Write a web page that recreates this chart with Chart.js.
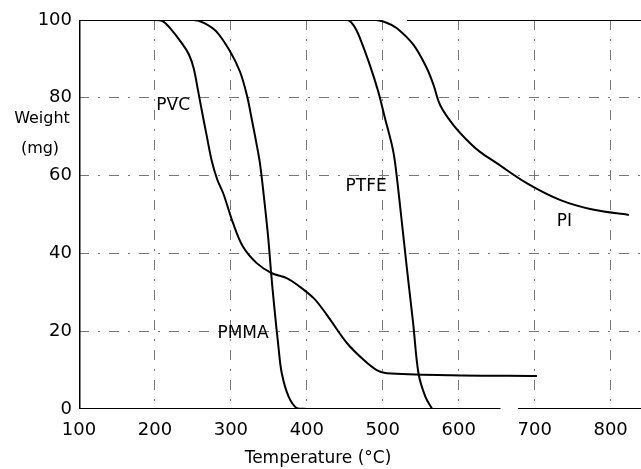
<!DOCTYPE html>
<html>
<head>
<meta charset="utf-8">
<script src="https://cdn.jsdelivr.net/npm/chart.js@4/dist/chart.umd.min.js"></script>
<style>
  html, body { margin: 0; padding: 0; background: #fff; }
  canvas { display: block; }
</style>
</head>
<body>
<canvas id="tga" width="641" height="469"></canvas>
<script>
// axis ticks
const xTicks = [100, 200, 300, 400, 500, 600, 700, 800];
const yTicks = [0, 20, 40, 60, 80, 100];

// curves (temperature in °C, weight in mg)
const pvcTemp = [100, 200, 210, 220, 237, 245, 251, 257, 262, 268, 275, 282, 290, 303, 316, 334, 354, 374, 391, 409, 420, 431, 453, 475, 492, 505, 589, 703];
const pvcWeight = [100, 100, 99.7, 97.9, 93.6, 91, 87.6, 81.6, 76.4, 70.4, 63.6, 59, 55.4, 47.7, 41.7, 37.5, 34.9, 33.6, 31.4, 28.5, 25.9, 22.9, 16.9, 12.6, 10, 9.2, 8.7, 8.5];

const pmmaTemp = [100, 251, 265, 281, 299, 312, 321, 327.5, 334, 338, 343, 349, 353, 357, 362.6, 367, 376, 387, 400];
const pmmaWeight = [100, 100, 99.2, 97, 91.9, 86.7, 80.7, 74.5, 67.9, 63.5, 55.4, 44.3, 34.9, 26.5, 16, 9.2, 3.2, 0.2, 0];

const ptfeTemp = [100, 453, 462, 470, 483, 494, 503, 512, 516, 524, 532, 540, 547, 556, 565];
const ptfeWeight = [100, 100, 98.5, 95.3, 88.4, 81.6, 74.7, 67.9, 63.6, 50, 35.7, 22, 9.2, 3.2, 0];

const piTemp = [100, 490, 505, 518.6, 540.5, 558, 566.8, 575.6, 593, 615, 628, 650, 690, 734, 778, 824];
const piWeight = [100, 100, 99.3, 97.9, 93.6, 87.6, 83.3, 78.1, 73, 68.3, 66.1, 63.2, 58, 53.7, 51.2, 49.9];

// curve names and where they are written
const curveNames = ['PVC', 'PTFE', 'PMMA', 'PI'];
const nameTemp = [224, 478, 316, 739];
const nameWeight = [78, 57.3, 19.3, 48.3];

// frame pieces (the scan has small breaks in it)
const leftAxisTemp = [100, 100], leftAxisWeight = [0, 100];
const topFrameTemp = [532, 840], topFrameWeight = [100, 100];
const bottomLeftTemp = [100, 655], bottomRightTemp = [678, 840], bottomWeight = [0, 0];

function pts(xs, ys) {
  return xs.map((x, i) => ({x: x, y: ys[i]}));
}

function curve(xs, ys, width, tension) {
  return {
    data: pts(xs, ys),
    borderColor: '#000',
    borderWidth: width,
    pointRadius: 0,
    fill: false,
    tension: tension
  };
}

const FONT = "'DejaVu Sans'";

const textPlugin = {
  id: 'texts',
  afterDraw(chart) {
    const ctx = chart.ctx;
    const xs = chart.scales.x, ys = chart.scales.y;
    ctx.save();
    ctx.fillStyle = '#000';
    ctx.textAlign = 'center';
    ctx.textBaseline = 'middle';
    ctx.font = '16px ' + FONT;
    ctx.fillText('Weight', 42, 119);
    ctx.fillText('(mg)', 40, 149);
    ctx.font = '17px ' + FONT;
    ctx.fillText('Temperature (°C)', 318, 459);
    for (let i = 0; i < curveNames.length; i++) {
      ctx.fillText(curveNames[i], xs.getPixelForValue(nameTemp[i]), ys.getPixelForValue(nameWeight[i]));
    }
    ctx.restore();
  }
};

function edgeHidden(edges) {
  return function(c) {
    return edges.includes(c.tick.value) ? 'rgba(0,0,0,0)' : '#777';
  };
}

new Chart(document.getElementById('tga'), {
  type: 'line',
  data: {
    datasets: [
      curve(pvcTemp, pvcWeight, 2, 0.35),
      curve(pmmaTemp, pmmaWeight, 2, 0.35),
      curve(ptfeTemp, ptfeWeight, 2, 0.35),
      curve(piTemp, piWeight, 2, 0.35),
      curve(leftAxisTemp, leftAxisWeight, 3, 0),
      curve(topFrameTemp, topFrameWeight, 2, 0),
      curve(bottomLeftTemp, bottomWeight, 2, 0),
      curve(bottomRightTemp, bottomWeight, 2, 0)
    ]
  },
  options: {
    responsive: false,
    animation: false,
    layout: { padding: { top: 20, right: 0, left: 0, bottom: 0 } },
    plugins: { legend: { display: false }, tooltip: { enabled: false } },
    scales: {
      x: {
        type: 'linear',
        min: 100,
        max: 840,
        afterBuildTicks: s => { s.ticks = xTicks.map(v => ({value: v})); },
        afterFit: s => { s.height = 60; },
        border: { display: false, dash: [10, 9, 2, 9] },
        grid: { color: edgeHidden([100]), lineWidth: 1, drawTicks: false },
        ticks: { color: '#000', font: { family: FONT, size: 18 }, padding: 11, maxRotation: 0 }
      },
      y: {
        min: 0,
        max: 100,
        afterBuildTicks: s => { s.ticks = yTicks.map(v => ({value: v})); },
        afterFit: s => { s.width = 79; },
        border: { display: false, dash: [10, 9, 2, 9] },
        grid: { color: edgeHidden([0, 100]), lineWidth: 1, drawTicks: false },
        ticks: { color: '#000', font: { family: FONT, size: 18 }, padding: 7 }
      }
    }
  },
  plugins: [textPlugin]
});
</script>
</body>
</html>
